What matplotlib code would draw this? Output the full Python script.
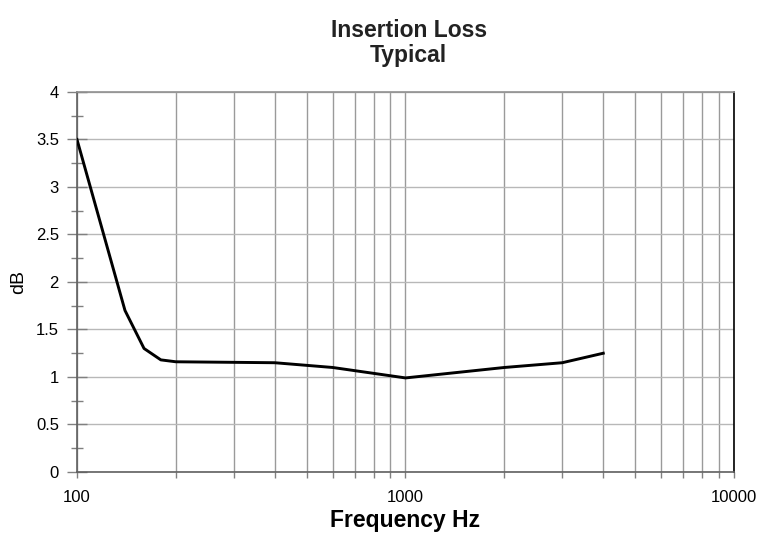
import matplotlib
matplotlib.use("Agg")
import matplotlib.pyplot as plt
from matplotlib.ticker import FixedLocator, NullFormatter

plt.rcParams['font.family'] = ['Liberation Sans', 'DejaVu Sans']

freq = [100, 140, 160, 180, 200, 400, 600, 1000, 2000, 3000, 4000]
loss = [3.5, 1.7, 1.3, 1.18, 1.16, 1.15, 1.1, 0.99, 1.1, 1.15, 1.25]

fig = plt.figure(figsize=(7.57, 5.43), dpi=100)
ax = fig.add_axes([0.1017, 0.1308, 0.8679, 0.6998])

ax.plot(freq, loss, color='black', lw=2.1, zorder=3)

ax.set_xscale('log')
ax.set_xlim(100, 10000)
ax.set_ylim(0, 4)

ax.xaxis.set_major_locator(FixedLocator([100, 1000, 10000]))
minors = [m * d for d in (100, 1000) for m in range(2, 10)]
ax.xaxis.set_minor_locator(FixedLocator(minors))
ax.xaxis.set_minor_formatter(NullFormatter())
ax.set_xticklabels(['100', '1000', '10000'])

ax.set_yticks([0, 0.5, 1, 1.5, 2, 2.5, 3, 3.5, 4])
ax.set_yticklabels(['0', '0.5', '1', '1.5', '2', '2.5', '3', '3.5', '4'])
ax.set_yticks([0.25 + 0.5 * i for i in range(8)], minor=True)

ax.grid(True, axis='x', which='both', color='#9a9a9a', lw=1.0)
ax.grid(True, axis='y', which='major', color='#b8b8b8', lw=1.0)

ax.tick_params(axis='x', which='both', direction='out', length=4, width=1,
               color='#808080', labelsize=12, pad=9)
ax.tick_params(axis='y', which='major', direction='inout', length=14, width=1,
               color='#808080', labelsize=12, pad=6)
ax.tick_params(axis='y', which='minor', direction='inout', length=9, width=1,
               color='#808080')

for s in ['left', 'bottom']:
    ax.spines[s].set_color('#606060')
    ax.spines[s].set_linewidth(1.2)
ax.spines['top'].set_color('#909090')
ax.spines['top'].set_linewidth(1.2)
ax.spines['right'].set_color('black')
ax.spines['right'].set_linewidth(1.2)

fig.text(0.54, 0.943, 'Insertion Loss', ha='center', va='center',
         fontsize=16.5, fontweight='bold', color='#222222')
fig.text(0.54, 0.897, 'Typical', ha='center', va='center',
         fontsize=16.5, fontweight='bold', color='#222222')

ax.set_xlabel('Frequency Hz', fontsize=16.5, fontweight='bold', labelpad=3)
ax.set_ylabel('dB', fontsize=14, labelpad=6)

fig.savefig('out.png', dpi=100)
